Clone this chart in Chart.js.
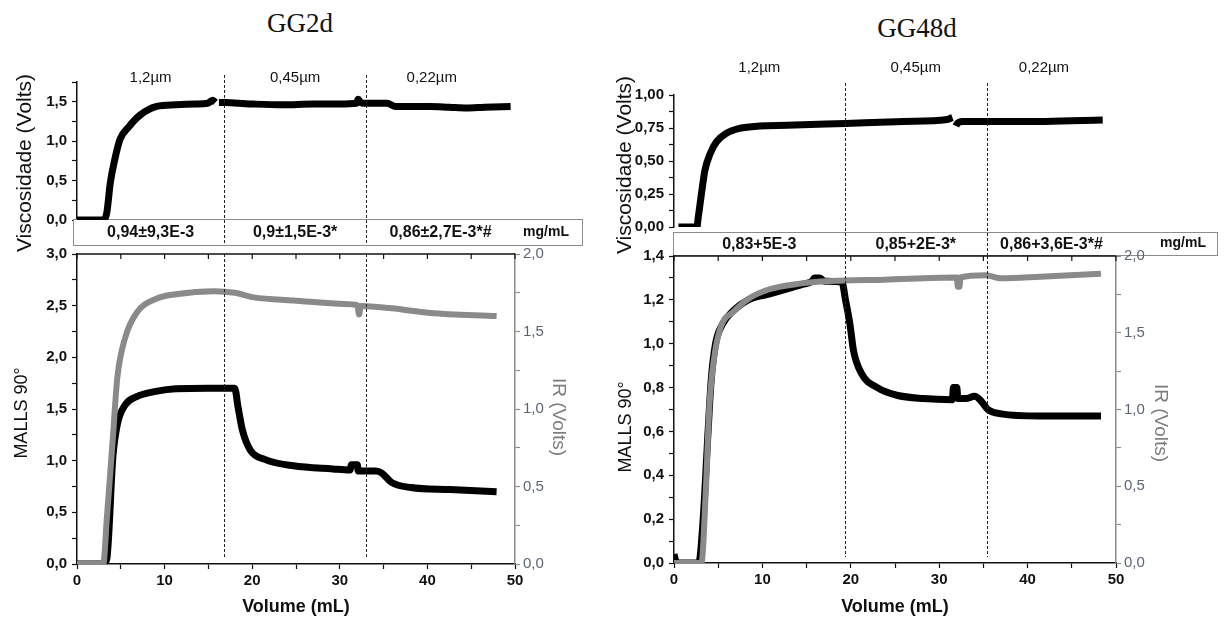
<!DOCTYPE html>
<html>
<head>
<meta charset="utf-8">
<script src="https://cdn.jsdelivr.net/npm/chart.js@4.4.1/dist/chart.umd.min.js"></script>
<style>
  body { margin: 0; background: #fff; width: 1224px; height: 618px; position: relative; overflow: hidden; }
  canvas { position: absolute; }
  .ttl { position: absolute; font-family: 'Liberation Serif', 'Times New Roman', serif; font-size: 27px;
         color: #111; transform: translateX(-50%); white-space: nowrap; }
</style>
</head>
<body>
<div class="ttl" style="left:300px;top:8px">GG2d</div>
<div class="ttl" style="left:917px;top:13px">GG48d</div>
<canvas id="gg2dTop" width="612" height="280" style="left:0;top:0"></canvas>
<canvas id="gg2dBot" width="612" height="378" style="left:0;top:240px"></canvas>
<canvas id="gg48dTop" width="612" height="280" style="left:612px;top:0"></canvas>
<canvas id="gg48dBot" width="612" height="378" style="left:612px;top:240px"></canvas>
<script>
// ---- GG2d ----
const gg2dViscVol = [0, 1.5, 3.0, 3.4, 3.8, 4.3, 4.9, 5.9, 7.2, 9.1, 11.3, 13.5, 14.9, 15.2, 15.5, 15.8, 16.0, 16.2,
  17.0, 18.5, 20.2, 23.5, 26.9, 30.0, 31.9, 32.1, 32.4, 32.8, 35.4, 36.3, 38.5, 40.3, 42.5, 44.5, 46.5, 49.5];
const gg2dVisc = [0, 0, 0, 0.09, 0.47, 0.76, 1.02, 1.18, 1.33, 1.44, 1.46, 1.47, 1.48, 1.50, 1.52, 1.49, null, 1.49,
  1.49, 1.48, 1.47, 1.46, 1.47, 1.47, 1.48, 1.53, 1.49, 1.48, 1.48, 1.44, 1.44, 1.44, 1.43, 1.42, 1.43, 1.44];
const gg2dMallsVol = [0, 3.0, 3.4, 4.1, 4.6, 5.5, 6.8, 9.0, 11.3, 15.0, 18.0, 18.4, 18.9, 19.8, 21.5, 24.7, 29.2,
  31.2, 31.3, 32.0, 32.1, 34.1, 34.8, 35.9, 38.1, 42.6, 47.9];
const gg2dMalls = [0, 0, 0.05, 1.04, 1.35, 1.54, 1.62, 1.67, 1.695, 1.70, 1.70, 1.51, 1.29, 1.10, 1.01, 0.95, 0.92,
  0.91, 0.96, 0.96, 0.90, 0.90, 0.88, 0.79, 0.74, 0.72, 0.70];
const gg2dIrVol = [0, 3.0, 3.4, 4.1, 4.6, 5.5, 6.8, 9.0, 11.3, 15.7, 18.0, 20.2, 24.7, 31.4, 32.0, 32.2, 32.4, 35.9, 40.3, 47.9];
const gg2dIr = [0, 0, 0.29, 0.82, 1.2, 1.46, 1.62, 1.71, 1.74, 1.76, 1.75, 1.72, 1.70, 1.675, 1.67, 1.61, 1.665, 1.65, 1.62, 1.60];
const gg2dCuts = [16.8, 33.0];
const gg2dConc = ['0,94±9,3E-3', '0,9±1,5E-3*', '0,86±2,7E-3*#'];

// ---- GG48d ----
const gg48dViscVol = [0, 0.4, 0.5, 2.6, 2.7, 3.1, 3.5, 4.1, 4.8, 5.9, 7.4, 9.7, 12.8, 19.4, 26.0, 30.9, 31.5, 31.7,
  31.9, 32.0, 32.65, 37.0, 42.0, 48.5];
const gg48dVisc = [0.04, null, 0, 0, 0.05, 0.25, 0.43, 0.557, 0.645, 0.709, 0.747, 0.765, 0.77, 0.785, 0.80, 0.815, 0.83, null,
  0.765, 0.78, 0.80, 0.80, 0.80, 0.81];
const gg48dMallsVol = [0, 0.3, 2.8, 3.3, 3.8, 4.2, 4.7, 5.5, 6.7, 8.4, 10.6, 12.8, 14.5, 15.6, 15.9, 16.5, 17.0, 19.0,
  19.4, 19.9, 20.3, 21.2, 23.0, 25.2, 28.2, 31.5, 31.6, 32.0, 32.1, 33.0, 34.0, 34.6, 35.5, 37.0, 41.4, 48.3];
const gg48dMalls = [0.04, 0, 0, 0.2, 0.56, 0.83, 1.0, 1.09, 1.15, 1.2, 1.225, 1.25, 1.27, 1.285, 1.30, 1.30, 1.285, 1.28,
  1.2, 1.09, 0.97, 0.865, 0.80, 0.765, 0.75, 0.745, 0.80, 0.80, 0.75, 0.75, 0.76, 0.745, 0.70, 0.68, 0.67, 0.67];
const gg48dIrVol = [0, 3.1, 3.6, 4.0, 4.55, 5.3, 6.7, 8.4, 10.6, 14.2, 17.7, 23.8, 31.8, 32.0, 32.1, 32.3, 32.4, 35.3, 37.0, 41.4, 48.3];
const gg48dIr = [0, 0, 0.47, 1.02, 1.34, 1.54, 1.635, 1.72, 1.78, 1.82, 1.837, 1.846, 1.86, 1.86, 1.80, 1.80, 1.86, 1.874, 1.855, 1.865, 1.885];
const gg48dCuts = [19.3, 35.4];
const gg48dConc = ['0,83+5E-3', '0,85+2E-3*', '0,86+3,6E-3*#'];

const poreSizes = ['1,2µm', '0,45µm', '0,22µm'];
const concUnit = 'mg/mL';

const FONT = "'Liberation Sans', Arial, sans-serif";
Chart.defaults.font.family = FONT;
const INK = '#111';
const GREY = '#8a8a8a';

const pts = (xs, ys) => xs.map((v, i) => ({ x: v, y: ys[i] }));
const mid = (a, b) => (a + b) / 2;
const tickFmt = (every, dec) => v => {
  const k = v / every;
  return Math.abs(k - Math.round(k)) < 1e-6 ? v.toFixed(dec).replace('.', ',') : '';
};

function yScale(o) {
  const col = o.color || INK;
  return {
    type: 'linear', position: o.pos || 'left', min: o.min, max: o.max,
    afterFit: s => { s.width = o.width; },
    border: { display: true, color: col, width: 1.5 },
    grid: { drawOnChartArea: false, drawTicks: true, tickLength: 5, tickColor: col, tickWidth: 1.2 },
    ticks: {
      stepSize: o.step, autoSkip: false, padding: o.pad ?? 5, color: o.labelColor || INK,
      font: { size: 15, weight: o.weight || 'bold' }, callback: tickFmt(o.every, o.dec)
    }
  };
}

// filter band with concentrations, pore labels and dashed cut lines (top charts)
const band = {
  id: 'band',
  beforeDatasetsDraw(chart, args, o) {
    const { ctx, chartArea: a } = chart;
    const L = a.left + o.dl, R = a.right + o.dr, T = a.bottom + o.dt;
    ctx.save();
    ctx.fillStyle = '#fff';
    ctx.fillRect(L, T, R - L, o.h);
    ctx.strokeStyle = '#8c8c8c';
    ctx.lineWidth = 1;
    ctx.strokeRect(L + 0.5, T + 0.5, R - L, o.h);
    ctx.restore();
  },
  afterDraw(chart, args, o) {
    const { ctx, chartArea: a, scales: { x } } = chart;
    const R = a.right + o.dr, T = a.bottom + o.dt, B = T + o.h;
    ctx.save();
    ctx.strokeStyle = '#222';
    ctx.lineWidth = 1;
    ctx.setLineDash([3, 2]);
    o.cuts.forEach(c => {
      const px = Math.round(x.getPixelForValue(c)) + 0.5;
      ctx.beginPath(); ctx.moveTo(px, o.cutTop); ctx.lineTo(px, B); ctx.stroke();
    });
    ctx.setLineDash([]);
    ctx.fillStyle = INK;
    ctx.textAlign = 'center';
    ctx.textBaseline = 'middle';
    const edges = [0, ...o.cuts, 50];
    ctx.font = 'bold 16px ' + FONT;
    o.conc.forEach((t, i) => ctx.fillText(t, x.getPixelForValue(mid(edges[i], edges[i + 1])), T + o.h / 2 + 1));
    ctx.font = 'bold 14px ' + FONT;
    ctx.fillText(concUnit, R - o.unitDx, T + o.h / 2);
    ctx.font = '15px ' + FONT;
    const pe = [0, ...o.cuts, o.poreEnd];
    poreSizes.forEach((t, i) => ctx.fillText(t, x.getPixelForValue(mid(pe[i], pe[i + 1])), o.labelY));
    ctx.restore();
  }
};

// dashed cut lines + top frame with inward ticks (bottom charts)
const frame = {
  id: 'frame',
  afterDatasetsDraw(chart, args, o) {
    const { ctx, chartArea: a, scales: { x } } = chart;
    ctx.save();
    ctx.strokeStyle = '#222';
    ctx.lineWidth = 1;
    ctx.setLineDash([3, 2]);
    o.cuts.forEach(c => {
      const px = Math.round(x.getPixelForValue(c)) + 0.5;
      ctx.beginPath(); ctx.moveTo(px, a.top); ctx.lineTo(px, a.bottom - 6); ctx.stroke();
    });
    ctx.setLineDash([]);
    ctx.strokeStyle = INK;
    ctx.lineWidth = 1.5;
    ctx.beginPath(); ctx.moveTo(a.left, a.top); ctx.lineTo(a.right, a.top); ctx.stroke();
    ctx.lineWidth = 1.2;
    x.ticks.forEach(t => {
      const px = x.getPixelForValue(t.value);
      ctx.beginPath(); ctx.moveTo(px, a.top); ctx.lineTo(px, a.top + 5); ctx.stroke();
    });
    ctx.restore();
  }
};

// rotated axis titles
const axisTitles = {
  id: 'axisTitles',
  afterDraw(chart, args, o) {
    const ctx = chart.ctx;
    o.items.forEach(it => {
      ctx.save();
      ctx.translate(it.x, it.y);
      ctx.rotate(it.rot * Math.PI / 180);
      ctx.font = it.font;
      ctx.fillStyle = it.color || INK;
      ctx.textAlign = 'center';
      ctx.textBaseline = 'middle';
      ctx.fillText(it.text, 0, 0);
      ctx.restore();
    });
  }
};

const base = { responsive: false, animation: false, devicePixelRatio: 1 };
const lineStyle = { pointRadius: 0, borderJoinStyle: 'round', cubicInterpolationMode: 'monotone' };

function topChart(id, p) {
  new Chart(document.getElementById(id), {
    type: 'line',
    data: { datasets: [{ data: pts(p.viscVol, p.visc), borderColor: '#000', borderWidth: 7, ...lineStyle }] },
    options: {
      ...base,
      layout: { padding: p.topPad },
      plugins: { legend: { display: false }, tooltip: { enabled: false }, band: p.band,
        axisTitles: { items: [{ text: 'Viscosidade (Volts)', x: p.viscTitle[0], y: p.viscTitle[1], rot: -90, font: '21px ' + FONT }] } },
      scales: {
        x: { type: 'linear', min: 0, max: 50, display: false },
        y: yScale({ min: 0, max: p.viscMax, step: p.viscStep, every: p.viscEvery, dec: p.viscDec, width: p.yW })
      }
    },
    plugins: [band, axisTitles]
  });
}

function bottomChart(id, p) {
  new Chart(document.getElementById(id), {
    type: 'line',
    data: { datasets: [
      { data: pts(p.irVol, p.ir), yAxisID: 'yIr', borderColor: GREY, borderWidth: 6, ...lineStyle },
      { data: pts(p.mallsVol, p.malls), yAxisID: 'y', borderColor: '#000', borderWidth: 7, ...lineStyle }
    ] },
    options: {
      ...base,
      layout: { padding: p.botPad },
      plugins: { legend: { display: false }, tooltip: { enabled: false }, frame: { cuts: p.cuts },
        axisTitles: { items: [
          { text: 'MALLS 90°', x: p.mallsTitle[0], y: p.mallsTitle[1], rot: -90, font: '18px ' + FONT },
          { text: 'IR (Volts)', x: p.irTitle[0], y: p.irTitle[1], rot: 90, font: '19px ' + FONT, color: '#7c7c7c' }
        ] } },
      scales: {
        x: {
          type: 'linear', min: 0, max: 50,
          afterFit: s => { s.height = p.xH; },
          border: { display: true, color: INK, width: 1.5 },
          grid: { drawOnChartArea: false, drawTicks: true, tickLength: 5, tickColor: INK, tickWidth: 1.2 },
          ticks: { stepSize: 5, autoSkip: false, maxRotation: 0, padding: 3, color: INK,
            font: { size: 15, weight: 'bold' }, callback: v => (v % 10 === 0 ? String(v) : '') },
          title: { display: true, text: 'Volume (mL)', color: INK, font: { size: 18, weight: 'bold' },
            padding: { top: 0, bottom: 0 } }
        },
        y: yScale({ min: 0, max: p.mallsMax, step: p.mallsStep, every: p.mallsEvery, dec: 1, width: p.yW }),
        yIr: yScale({ pos: 'right', min: 0, max: 2, step: 0.25, every: 0.5, dec: 1, width: p.y2W,
          color: GREY, labelColor: '#5b6474', weight: 'normal', pad: 3 })
      }
    },
    plugins: [frame, axisTitles]
  });
}

topChart('gg2dTop', {
  viscVol: gg2dViscVol, visc: gg2dVisc, viscMax: 1.75, viscStep: 0.25, viscEvery: 0.5, viscDec: 1,
  yW: 77, topPad: { left: 0, right: 97, top: 82, bottom: 60 }, viscTitle: [25, 163],
  band: { cuts: gg2dCuts, conc: gg2dConc, poreEnd: 48, labelY: 78, cutTop: 75, dl: -4, dr: 67, dt: -1, h: 26, unitDx: 36 }
});
bottomChart('gg2dBot', {
  irVol: gg2dIrVol, ir: gg2dIr, mallsVol: gg2dMallsVol, malls: gg2dMalls, mallsMax: 3, mallsStep: 0.25, mallsEvery: 0.5,
  cuts: gg2dCuts, yW: 77, y2W: 97, xH: 54, botPad: { left: 0, right: 0, top: 7, bottom: 0 },
  mallsTitle: [22, 173], irTitle: [558, 177]
});
topChart('gg48dTop', {
  viscVol: gg48dViscVol, visc: gg48dVisc, viscMax: 1.0, viscStep: 0.125, viscEvery: 0.25, viscDec: 2,
  yW: 62, topPad: { left: 0, right: 108, top: 95, bottom: 53 }, viscTitle: [13, 165],
  band: { cuts: gg48dCuts, conc: gg48dConc, poreEnd: 48.3, labelY: 68, cutTop: 83, dl: -1, dr: 101, dt: 5, h: 23, unitDx: 34 }
});
bottomChart('gg48dBot', {
  irVol: gg48dIrVol, ir: gg48dIr, mallsVol: gg48dMallsVol, malls: gg48dMalls, mallsMax: 1.4, mallsStep: 0.1, mallsEvery: 0.2,
  cuts: gg48dCuts, yW: 62, y2W: 108, xH: 55, botPad: { left: 0, right: 0, top: 16, bottom: 0 },
  mallsTitle: [14, 187], irTitle: [548, 183]
});
</script>
</body>
</html>
